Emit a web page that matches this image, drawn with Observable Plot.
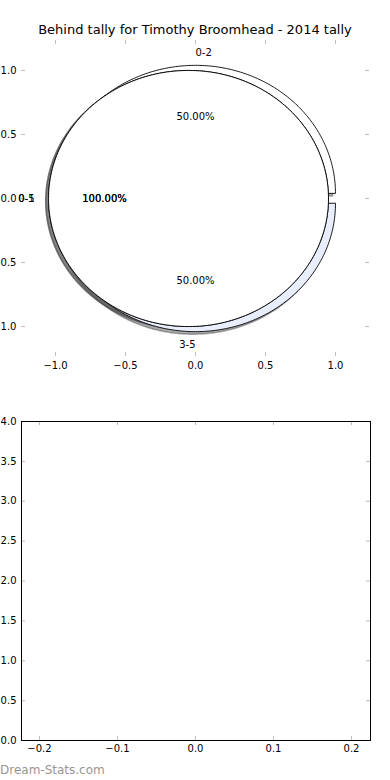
<!DOCTYPE html>
<html>
<head>
<meta charset="utf-8">
<script src="https://cdn.jsdelivr.net/npm/d3@7"></script>
<script src="https://cdn.jsdelivr.net/npm/@observablehq/plot@0.6"></script>
<style>
  body { margin: 0; background: #fff; font-family: "DejaVu Sans", sans-serif; }
  #page { position: relative; width: 390px; height: 780px; overflow: hidden; background: #fff; }
  #top { position: absolute; left: 0; top: 0; }
  #bottom { position: absolute; left: 0; top: 390px; }
  #title { position: absolute; left: 0; top: 22px; width: 390px; text-align: center; font-size: 13px; line-height: 15px; color: #000; z-index: 2; }
  #footer { position: absolute; left: 0; top: 763px; font-size: 12px; line-height: 14px; color: #969696; z-index: 2; }
</style>
</head>
<body>
<div id="page">
  <div id="top"></div>
  <div id="bottom"></div>
  <div id="title">Behind tally for Timothy Broomhead - 2014 tally</div>
  <div id="footer">Dream-Stats.com</div>
</div>
<script>
// ---- data ----
const behindLabels = ["0-2", "3-5"];
const behindCounts = [1, 1];
const behindColors = ["#ffffff", "#e8eefb"];

const totalLabels = ["0-5", "0-1"];   // two single-slice pies drawn on top of each other
const totalCounts = [1, 1];
const totalColors = ["#ffffff", "#ffffff"];

const pieXTicks = [-1.0, -0.5, 0.0, 0.5, 1.0];
const pieYTicks = [-1.0, -0.5, 0.0, 0.5, 1.0];
const emptyXTicks = [-0.2, -0.1, 0.0, 0.1, 0.2];
const emptyYTicks = [0.0, 0.5, 1.0, 1.5, 2.0, 2.5, 3.0, 3.5, 4.0];

// ---- pie geometry (matplotlib-like: startangle 0, counterclockwise) ----
const explodeBehind = 0.04, explodeTotal = 0.05;
const shadowOffset = -0.02;
const labelDistance = 1.1, pctDistance = 0.6;

const wedgePoints = [], shadowPoints = [], labelTexts = [], pctTexts = [];
let wedgeId = 0;

function addPie(labels, values, colors, explode) {
  const total = d3.sum(values);
  let acc = 0;
  labels.forEach((lab, i) => {
    const frac = values[i] / total;
    const t1 = acc * 2 * Math.PI, t2 = (acc + frac) * 2 * Math.PI;
    acc += frac;
    const mid = (t1 + t2) / 2;
    const cx = explode * Math.cos(mid), cy = explode * Math.sin(mid);
    const full = frac >= 0.999999;
    const id = wedgeId++;
    const pts = [];
    if (!full) pts.push([cx, cy]);
    const n = 240;
    for (let k = 0; k <= n; k++) {
      const a = t1 + (t2 - t1) * k / n;
      pts.push([cx + Math.cos(a), cy + Math.sin(a)]);
    }
    const c = d3.rgb(colors[i]);
    const shade = d3.rgb(c.r * 0.3, c.g * 0.3, c.b * 0.3).formatHex();
    pts.forEach(([x, y]) => {
      wedgePoints.push({id, x, y, fill: colors[i]});
      shadowPoints.push({id, x: x + shadowOffset, y: y + shadowOffset, fill: shade});
    });
    const lx = cx + labelDistance * Math.cos(mid), ly = cy + labelDistance * Math.sin(mid);
    labelTexts.push({x: lx, y: ly, text: lab, side: Math.cos(mid) > 0 ? "start" : "end"});
    pctTexts.push({x: cx + pctDistance * Math.cos(mid), y: cy + pctDistance * Math.sin(mid),
                   text: (frac * 100).toFixed(2) + "%"});
  });
}
addPie(behindLabels, behindCounts, behindColors, explodeBehind);
totalLabels.forEach((lab, i) => addPie([lab], [totalCounts[i]], [totalColors[i]], explodeTotal));

const fmt = d3.format(".1f");
const tickGray = "#bdbdbd";

// ---- top: pie ----
const topH = 390, topMT = 40, topMB = 34, topML = 21, topMR = 21;
const topFrameH = topH - topMT - topMB, topFrameW = 390 - topML - topMR;

const topPlot = Plot.plot({
  width: 390, height: topH,
  marginTop: topMT, marginBottom: topMB, marginLeft: topML, marginRight: topMR,
  style: {fontFamily: "DejaVu Sans, sans-serif", fontSize: "10px", color: "black", background: "transparent", overflow: "visible"},
  x: {domain: [-1.243, 1.243], label: null},
  y: {domain: [-1.234, 1.234], label: null},
  color: {type: "identity"},
  marks: [
    Plot.line(shadowPoints, {x: "x", y: "y", z: "id", fill: "fill", stroke: "fill", fillOpacity: 0.45, strokeOpacity: 0.45, curve: "linear-closed"}),
    Plot.line(wedgePoints, {x: "x", y: "y", z: "id", fill: "fill", stroke: "black", strokeWidth: 0.9, curve: "linear-closed"}),
    Plot.ruleX(pieXTicks, {x: d => d, stroke: tickGray, insetTop: topFrameH - 4}),
    Plot.ruleX(pieXTicks, {x: d => d, stroke: tickGray, insetBottom: topFrameH - 4}),
    Plot.ruleY(pieYTicks, {y: d => d, stroke: tickGray, insetRight: topFrameW - 4}),
    Plot.ruleY(pieYTicks, {y: d => d, stroke: tickGray, insetLeft: topFrameW - 4}),
    Plot.axisX({anchor: "bottom", ticks: pieXTicks, tickSize: 0, tickPadding: 5, tickFormat: fmt, fontSize: 10}),
    Plot.axisY({anchor: "left", ticks: pieYTicks, tickSize: 0, tickPadding: 5, tickFormat: fmt, fontSize: 10}),
    Plot.text(labelTexts.filter(d => d.side === "start"), {x: "x", y: "y", text: "text", textAnchor: "start", fontSize: 10, fill: "black"}),
    Plot.text(labelTexts.filter(d => d.side === "end"), {x: "x", y: "y", text: "text", textAnchor: "end", fontSize: 10, fill: "black"}),
    Plot.text(pctTexts, {x: "x", y: "y", text: "text", textAnchor: "middle", fontSize: 10, fill: "black"})
  ]
});
document.getElementById("top").appendChild(topPlot);

// ---- bottom: empty axes ----
const botH = 370, botMT = 31, botMB = 20, botML = 21, botMR = 20;
const botFrameH = botH - botMT - botMB, botFrameW = 390 - botML - botMR;

const bottomPlot = Plot.plot({
  width: 390, height: botH,
  marginTop: botMT, marginBottom: botMB, marginLeft: botML, marginRight: botMR,
  style: {fontFamily: "DejaVu Sans, sans-serif", fontSize: "10px", color: "black", background: "transparent", overflow: "visible"},
  x: {domain: [-0.2231, 0.2244], label: null},
  y: {domain: [0, 4], label: null},
  marks: [
    Plot.ruleX(emptyXTicks, {x: d => d, stroke: tickGray, insetTop: botFrameH - 4}),
    Plot.ruleX(emptyXTicks, {x: d => d, stroke: tickGray, insetBottom: botFrameH - 4}),
    Plot.ruleY(emptyYTicks, {y: d => d, stroke: tickGray, insetRight: botFrameW - 4}),
    Plot.ruleY(emptyYTicks, {y: d => d, stroke: tickGray, insetLeft: botFrameW - 4}),
    Plot.frame({stroke: "black", strokeWidth: 1}),
    Plot.axisX({anchor: "bottom", ticks: emptyXTicks, tickSize: 0, tickPadding: 4, tickFormat: fmt, fontSize: 10}),
    Plot.axisY({anchor: "left", ticks: emptyYTicks, tickSize: 0, tickPadding: 5, tickFormat: fmt, fontSize: 10})
  ]
});
document.getElementById("bottom").appendChild(bottomPlot);
</script>
</body>
</html>
